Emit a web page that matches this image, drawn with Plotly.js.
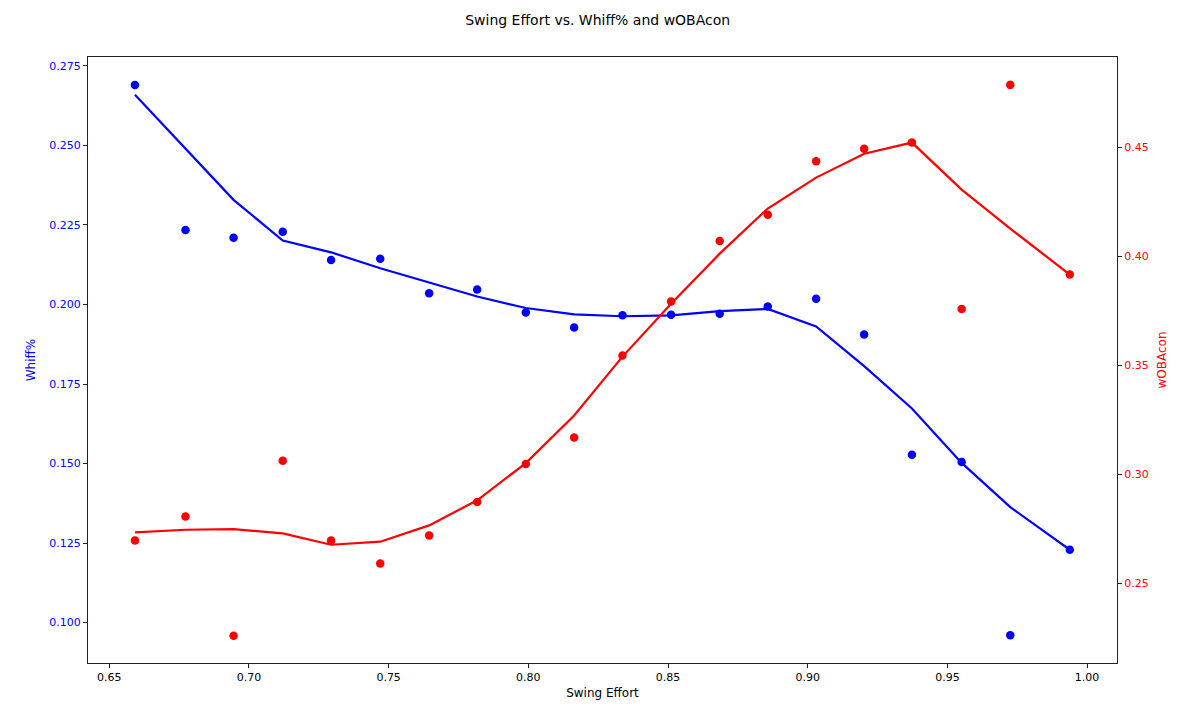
<!DOCTYPE html>
<html>
<head>
<meta charset="utf-8">
<script src="https://cdn.plot.ly/plotly-3.0.1.min.js"></script>
<style>html,body{margin:0;padding:0;background:#fff;}#chart{width:1199px;height:720px;}</style>
</head>
<body>
<div id="chart"></div>
<script>
const swingEffort = [0.6592, 0.6773, 0.6945, 0.7121, 0.7294, 0.7470, 0.7645, 0.7817, 0.7991, 0.8164,
                     0.8337, 0.8511, 0.8685, 0.8857, 0.9030, 0.9202, 0.9373, 0.9551, 0.9725, 0.9938];
const whiffPoints = [0.2690, 0.2234, 0.2210, 0.2229, 0.2140, 0.2144, 0.2035, 0.2047, 0.1975, 0.1928,
                     0.1966, 0.1968, 0.1971, 0.1994, 0.2018, 0.1906, 0.1528, 0.1505, 0.0960, 0.1229];
const whiffSmooth = [0.2659, 0.2490, 0.2329, 0.2201, 0.2164, 0.2114, 0.2070, 0.2025, 0.1989, 0.1969,
                     0.1963, 0.1966, 0.1979, 0.1986, 0.1931, 0.1806, 0.1673, 0.1502, 0.1363, 0.1229];
const wobaPoints  = [0.2696, 0.2806, 0.2258, 0.3062, 0.2695, 0.2590, 0.2719, 0.2872, 0.3047, 0.3169,
                     0.3545, 0.3793, 0.4071, 0.4192, 0.4437, 0.4495, 0.4523, 0.3759, 0.4788, 0.3917];
const wobaSmooth  = [0.2733, 0.2745, 0.2748, 0.2728, 0.2676, 0.2690, 0.2765, 0.2880, 0.3051, 0.3270,
                     0.3540, 0.3783, 0.4013, 0.4220, 0.4362, 0.4472, 0.4523, 0.4307, 0.4128, 0.3917];
const xTicks = [0.65, 0.70, 0.75, 0.80, 0.85, 0.90, 0.95, 1.00];
const whiffTicks = [0.100, 0.125, 0.150, 0.175, 0.200, 0.225, 0.250, 0.275];
const wobaTicks = [0.25, 0.30, 0.35, 0.40, 0.45];

const BLUE = '#0000ff', RED = '#ff0000';
const FONT = 'DejaVu Sans, sans-serif';

const traces = [
  {x: swingEffort, y: whiffPoints, type: 'scatter', mode: 'markers', name: 'Whiff%',
   marker: {color: BLUE, size: 8.5}, yaxis: 'y', cliponaxis: false},
  {x: swingEffort, y: whiffSmooth, type: 'scatter', mode: 'lines', name: 'Whiff% smooth',
   line: {color: BLUE, width: 2.2}, yaxis: 'y'},
  {x: swingEffort, y: wobaPoints, type: 'scatter', mode: 'markers', name: 'wOBAcon',
   marker: {color: RED, size: 8.5}, yaxis: 'y2', cliponaxis: false},
  {x: swingEffort, y: wobaSmooth, type: 'scatter', mode: 'lines', name: 'wOBAcon smooth',
   line: {color: RED, width: 2.2}, yaxis: 'y2'}
];

const layout = {
  width: 1199, height: 720,
  paper_bgcolor: '#fff', plot_bgcolor: '#fff',
  margin: {l: 88, r: 82, t: 57, b: 57},
  showlegend: false,
  font: {family: FONT, size: 11, color: '#000'},
  title: {text: 'Swing Effort vs. Whiff% and wOBAcon', x: 0.4985, xanchor: 'center',
          y: 0.972, yanchor: 'middle', font: {family: FONT, size: 14, color: '#000'}},
  xaxis: {
    range: [0.6424, 1.0107], tickvals: xTicks, ticktext: xTicks.map(v => v.toFixed(2)),
    showgrid: false, zeroline: false, showline: true, linecolor: '#222', linewidth: 1, mirror: true,
    ticks: 'outside', ticklen: 4, tickcolor: '#222', tickfont: {family: FONT, size: 11, color: '#000'},
    title: {text: 'Swing Effort', font: {family: FONT, size: 12, color: '#000'}, standoff: 5}
  },
  yaxis: {
    range: [0.0873, 0.2778], tickvals: whiffTicks, ticktext: whiffTicks.map(v => v.toFixed(3)),
    showgrid: false, zeroline: false, showline: true, linecolor: '#222', linewidth: 1,
    ticks: 'outside', ticklen: 4, tickcolor: '#222', tickfont: {family: FONT, size: 11, color: BLUE},
    title: {text: 'Whiff%', font: {family: FONT, size: 12, color: BLUE}, standoff: 11}
  },
  yaxis2: {
    range: [0.2133, 0.4916], tickvals: wobaTicks, ticktext: wobaTicks.map(v => v.toFixed(2)),
    overlaying: 'y', side: 'right', anchor: 'x',
    showgrid: false, zeroline: false, showline: true, linecolor: '#222', linewidth: 1,
    ticks: 'outside', ticklen: 4, tickcolor: '#222', tickfont: {family: FONT, size: 11, color: RED},
    title: {text: 'wOBAcon', font: {family: FONT, size: 12, color: RED}, standoff: 9}
  }
};

Plotly.newPlot('chart', traces, layout, {displayModeBar: false, staticPlot: true});
</script>
</body>
</html>
